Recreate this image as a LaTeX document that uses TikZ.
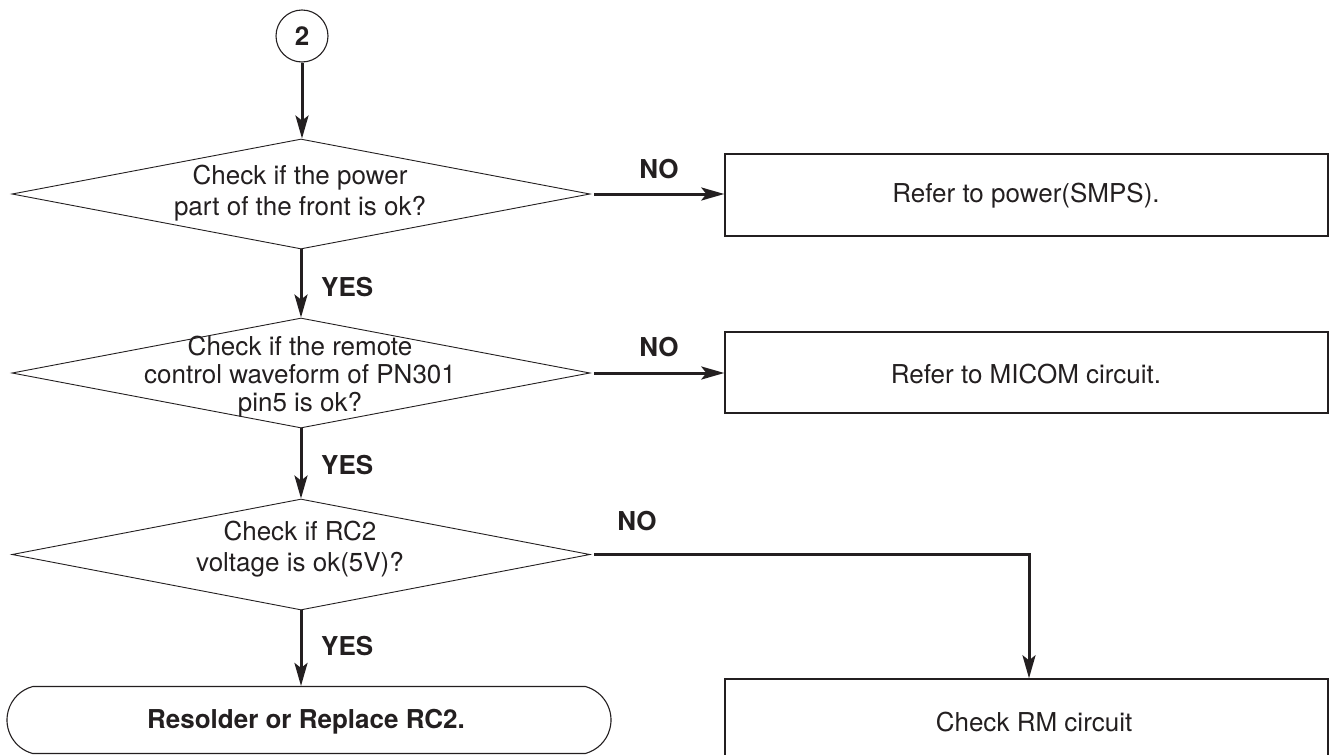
\documentclass[tikz,border=0pt]{standalone}
\usepackage{fontspec}
\setmainfont{TeX Gyre Heros}
\usetikzlibrary{shapes.geometric,shapes.misc,arrows.meta}
\definecolor{ink}{HTML}{231F20}
\begin{document}
\begin{tikzpicture}[x=1pt,y=-1pt,
  txt/.style={font=\fontsize{26}{31}\selectfont, align=center, inner sep=0pt, text=ink},
  lbl/.style={font=\fontsize{26}{31}\selectfont\bfseries, inner sep=0pt, text=ink},
  dia/.style={draw=ink, line width=0.9pt, diamond, minimum width=578pt, minimum height=110pt, inner sep=0pt},
  boxn/.style={draw=ink, line width=1.4pt, rectangle, minimum width=603pt, inner sep=0pt},
  conn/.style={draw=ink, line width=3pt, -{Stealth[length=23pt,width=13pt,inset=5pt]}},
]
\useasboundingbox (0,0) rectangle (1331,755);

% connector circle
\node[draw=ink, line width=1.1pt, circle, minimum size=52pt, inner sep=0pt,
      font=\fontsize{26}{31}\selectfont\bfseries, text=ink] (c2) at (302,36) {2};

% decisions
\node[dia] (d1) at (301,194) {};
\node[txt] (t1) at (300,193) {Check if the power\\part of the front is ok?};

\node[dia] (d2) at (301,373) {};
\node[txt, font=\fontsize{26}{28}\selectfont] (t2) at (300,377) {Check if the remote\\control waveform of PN301\\pin5 is ok?};

\node[dia, minimum height=111pt] (d3) at (301,554.5) {};
\node[txt] (t3) at (300,549) {Check if RC2\\voltage is ok(5V)?};

% boxes
\node[boxn, minimum height=82pt] (b1) at (1026.5,195) {};
\node[txt] (b1t) at (1026,196) {Refer to power(SMPS).};

\node[boxn, minimum height=81pt] (b2) at (1026.5,372.5) {};
\node[txt] (b2t) at (1026,374) {Refer to MICOM circuit.};

\node[boxn, minimum height=96pt] (b3) at (1026.5,727) {};
\node[txt] (b3t) at (1034,722) {Check RM circuit};

% terminal
\node[draw=ink, line width=1.1pt, rounded rectangle, rounded rectangle arc length=150,
      minimum width=604pt, minimum height=67pt, inner sep=0pt] (term) at (309,720) {};
\node[lbl] (termt) at (306,722) {Resolder or Replace RC2.};

% connectors
\draw[conn] (c2) -- (c2 |- d1.north);
\draw[conn] (d1.south) -- (d2.north);
\draw[conn] (d2.south) -- (d3.north);
\draw[conn] (d3.south) -- (d3.south |- term.north);

\draw[conn, shorten <=4pt] (d1.east) -- (d1.east -| b1.west);
\draw[conn, shorten <=4pt] (d2.east) -- (d2.east -| b2.west);
\coordinate (k3) at (1029,554.5);
\draw[conn, shorten <=4pt] (d3.east) -- (k3) -- (k3 |- b3.north);

% labels
\node[lbl, anchor=west] (y1) at (321,287) {YES};
\node[lbl, anchor=west] (y2) at (321,465) {YES};
\node[lbl, anchor=west] (y3) at (321,646) {YES};
\node[lbl] (n1) at (659,169) {NO};
\node[lbl] (n2) at (659,347) {NO};
\node[lbl] (n3) at (637,521) {NO};
\end{tikzpicture}
\end{document}
